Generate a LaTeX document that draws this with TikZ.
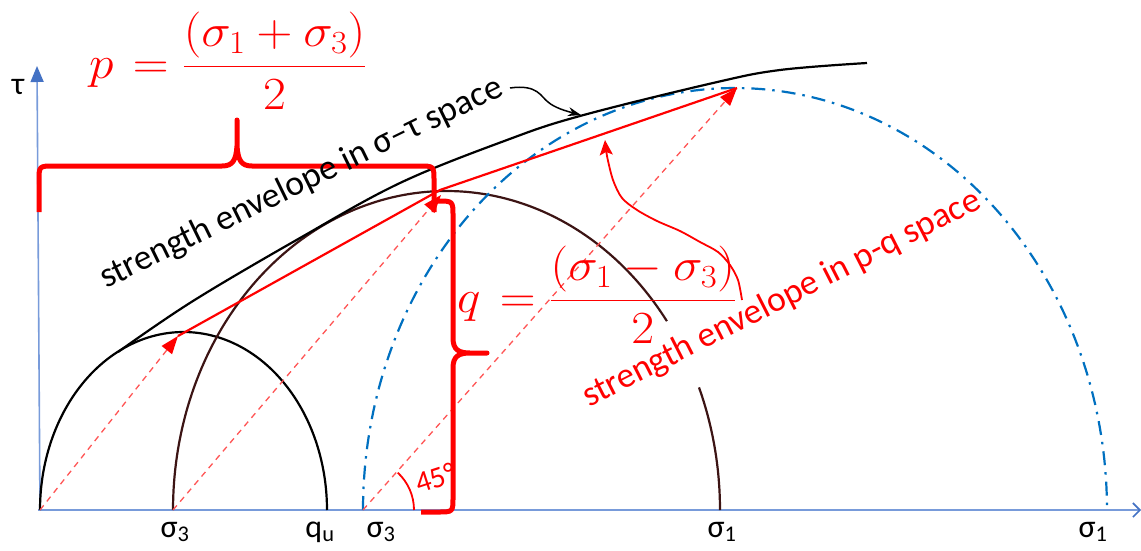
\documentclass[tikz,border=0pt]{standalone}
\usepackage{fix-cm}
\usepackage{fontspec}
\newfontfamily\labfont{Carlito}
\usetikzlibrary{arrows.meta}
\definecolor{axisblue}{RGB}{120,155,218}
\definecolor{axisarrow}{RGB}{68,114,196}
\definecolor{dashblue}{RGB}{0,112,192}
\definecolor{darkbrown}{RGB}{60,20,20}
\definecolor{pqred}{RGB}{255,0,0}
\definecolor{lightred}{RGB}{255,85,85}
\begin{document}
\begin{tikzpicture}[x=1pt,y=-1pt,
  axisline/.style={axisblue, line width=1.6pt},
  mohr/.style={line width=2.2pt},
  fortyfive/.style={lightred, line width=1.3pt, dash pattern=on 6pt off 5pt,
     -{Triangle[length=18pt,width=13pt,color=pqred]}},
  envline/.style={line width=2.2pt, line join=round},
  bracepath/.style={pqred, line width=5pt, line join=round},
  lab/.style={font=\labfont\fontsize{32}{38}\selectfont, inner sep=0pt},
  biglab/.style={font=\labfont\fontsize{35.5}{42}\selectfont, inner sep=0pt},
  formula/.style={text=pqred, inner sep=0pt, xscale=1.08, font=\fontsize{46}{55}\selectfont},
]
\useasboundingbox (0,0) rectangle (1141,551);

% axes
\coordinate (O) at (40,510);
\coordinate (tautop) at (37,66);
\coordinate (sigend) at (1141,510);
\draw[axisline, -{Triangle[length=16pt,width=13pt,color=axisarrow]}] (O) -- (tautop);
\draw[axisline, -{Straight Barb[length=7pt,width=14pt,color=axisarrow]}] (38,510) -- (sigend);

% Mohr circles
\draw[mohr, black] plot[domain=180:0, samples=120, variable=\t]
  ({183.5+143.5*cos(\t)}, {510-178*sin(\t)});
\draw[mohr, darkbrown] plot[domain=180:36.3, samples=120, variable=\t]
  ({446.5+273.5*cos(\t)}, {510-319*sin(\t)});
\draw[mohr, darkbrown] plot[domain=22.6:0, samples=30, variable=\t]
  ({446.5+273.5*cos(\t)}, {510-319*sin(\t)});
\draw[mohr, dashblue, dash pattern=on 14pt off 7pt on 2.5pt off 7pt] plot[domain=180:0, samples=160, variable=\t]
  ({735+372*cos(\t)}, {510-422*sin(\t)});

% 45 degree lines
\coordinate (foot1) at (40,510);
\coordinate (foot2) at (173,510);
\coordinate (foot3) at (363,510);
\coordinate (top1) at (178,336);
\coordinate (top2) at (441,195);
\coordinate (top3) at (737,88);
\draw[fortyfive] (foot1) -- (top1);
\draw[fortyfive] (foot2) -- (top2);
\draw[fortyfive] (foot3) -- (top3);

% p-q envelope
\draw[envline, pqred] (top1) -- (440,190) -- (top3);

% sigma-tau envelope
\draw[envline, black] plot[smooth, tension=0.6] coordinates
  {(118,352) (193,301) (300,238) (400,183) (507,140) (580,116) (713,83) (780,70) (867,63)};

% angle mark
\draw[pqred, line width=1.8pt] (414,510) arc[start angle=0, end angle=-47, radius=51];

% braces
\draw[bracepath] (39,212) -- (39,181) .. controls (39,166) .. (54,166) -- (222,166)
  .. controls (233,166) and (236,160) .. (237,146) -- (237,120) -- (237,146)
  .. controls (238,160) and (241,166) .. (252,166) -- (419,166)
  .. controls (434,166) .. (434,181) -- (434,212);
\draw[bracepath] (437,201) .. controls (453,201) .. (453,216) -- (453,338)
  .. controls (453,350) and (459,353) .. (470,353) -- (487,353) -- (470,353)
  .. controls (459,353) and (453,356) .. (453,368) -- (453,497)
  .. controls (453,512) .. (438,512) -- (421,512);

% labels
\node[lab, anchor=base] (tau) at (18,95) {τ};
\node[lab, anchor=base] (s3a) at (175,537) {σ\textsubscript{3}};
\node[lab, anchor=base] (qu) at (320,537) {q\textsubscript{u}};
\node[lab, anchor=base] (s3b) at (381,537) {σ\textsubscript{3}};
\node[lab, anchor=base] (s1a) at (722,537) {σ\textsubscript{1}};
\node[lab, anchor=base] (s1b) at (1093,537) {σ\textsubscript{1}};

\node[biglab, rotate=26, anchor=base west] (stlab) at (106,289) {strength envelope in σ–τ space};
\node[biglab, rotate=27, anchor=base west, text=pqred] (pqlab) at (589,408) {strength envelope in p-q space};
\node[lab, rotate=18, anchor=base west, text=pqred, font=\labfont\fontsize{30}{36}\selectfont] (ang) at (419,494) {45°};

% formulas
\node[formula, anchor=base west] (pform) at (89,78) {$\displaystyle p\mkern2mu=\frac{(\sigma_1+\sigma_3)}{2}$};
\node[formula, anchor=base west] (qform) at (457,312) {$\displaystyle q\mkern2mu=\frac{(\sigma_1-\sigma_3)}{2}$};

% label arrows
\coordinate (la0) at (510,88);
\coordinate (la1) at (548,102);
\coordinate (la2) at (581,115);
\draw[line width=1.5pt, -{Stealth[length=13pt,width=9pt]}] (la0) .. controls (538,84) and (541,97) .. (la1)
  .. controls (555,108) and (566,111) .. (la2);
\draw[pqred, line width=1.8pt, -{Stealth[length=15pt,width=13pt,inset=3pt]}] plot[smooth, tension=0.5] coordinates
  {(742,300) (738,280) (730,265) (718,252) (700,242) (680,231) (657,221) (637,210) (622,198) (613,180) (607,156) (605,140)};
\end{tikzpicture}
\end{document}
